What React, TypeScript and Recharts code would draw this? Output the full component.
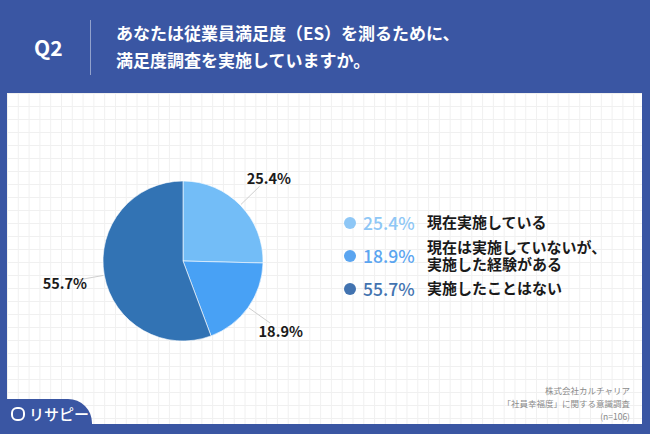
import { PieChart, Pie, Cell, Legend } from 'recharts'

const categories = ['現在実施している', '現在は実施していないが、\n実施した経験がある', '実施したことはない']
const values = [25.4, 18.9, 55.7]
const sliceColors = ['#73bdf7', '#48a1f5', '#3273b4']
const legendColors = ['#8ec7f6', '#5ba5f0', '#4273b0']
const titleLines = ['あなたは従業員満足度（ES）を測るために、', '満足度調査を実施していますか。']
const sourceLines = ['株式会社カルチャリア', '「社員幸福度」に関する意識調査', '(n=106)']

const data = categories.map((name, i) => ({ name, value: values[i] }))

const FONT = '"Noto Sans CJK JP", "Noto Sans", sans-serif'
const BLUE = '#3a56a3'
const RAD = Math.PI / 180

// percentage centred outside the slice, with a short grey leader
function renderLabel(props: any) {
  const { cx, cy, midAngle, outerRadius, value } = props
  const cos = Math.cos(-midAngle * RAD)
  const sin = Math.sin(-midAngle * RAD)
  const r0 = outerRadius + 1
  const r1 = outerRadius + 27
  const rt = outerRadius + 40
  return (
    <g>
      <line
        x1={cx + r0 * cos}
        y1={cy + r0 * sin}
        x2={cx + r1 * cos}
        y2={cy + r1 * sin}
        stroke="#cfcfcf"
        strokeWidth={1}
      />
      <text
        x={cx + rt * cos}
        y={cy + rt * sin}
        textAnchor="middle"
        dominantBaseline="central"
        fontSize={14.5}
        fontWeight={700}
        fill="#1a1a1a"
        fontFamily={FONT}
      >
        {`${value.toFixed(1)}%`}
      </text>
    </g>
  )
}

function LegendContent() {
  return (
    <div style={{ fontFamily: FONT }}>
      {data.map((d, i) => {
        const twoLines = d.name.includes('\n')
        return (
          <div
            key={d.name}
            style={{
              display: 'flex',
              alignItems: 'center',
              height: twoLines ? 35 : 31,
            }}
          >
            <span
              style={{
                width: 12,
                height: 12,
                borderRadius: 6,
                background: legendColors[i],
                marginRight: 7,
                flexShrink: 0,
              }}
            />
            <span
              style={{
                color: legendColors[i],
                fontSize: 17.5,
                fontWeight: 500,
                width: 64,
                fontFamily: FONT,
              }}
            >
              {`${d.value.toFixed(1)}%`}
            </span>
            <span
              style={{
                fontSize: 15,
                fontWeight: 700,
                color: '#1a1a1a',
                lineHeight: '16.5px',
                whiteSpace: 'pre-line',
              }}
            >
              {d.name}
            </span>
          </div>
        )
      })}
    </div>
  )
}

export default function App() {
  return (
    <div
      style={{
        position: 'absolute',
        left: 0,
        top: 0,
        width: 650,
        height: 434,
        background: BLUE,
        overflow: 'hidden',
        fontFamily: FONT,
      }}
    >
      {/* header */}
      <div style={{ position: 'absolute', left: 34, top: 33, color: '#fff', fontSize: 21, fontWeight: 700, lineHeight: '28px' }}>
        Q2
      </div>
      <div style={{ position: 'absolute', left: 90, top: 20, width: 1, height: 55, background: 'rgba(255,255,255,0.45)' }} />
      <div style={{ position: 'absolute', left: 116, top: 19, color: '#fff', fontSize: 17, fontWeight: 700, lineHeight: '27px' }}>
        {titleLines.map((l) => (
          <div key={l}>{l}</div>
        ))}
      </div>

      {/* white panel with faint grid */}
      <div
        style={{
          position: 'absolute',
          left: 7,
          top: 93,
          width: 635,
          height: 331,
          backgroundColor: '#fff',
          backgroundImage:
            'linear-gradient(to right, #f0f0f0 1px, transparent 1px), linear-gradient(to bottom, #f0f0f0 1px, transparent 1px)',
          backgroundSize: '10.8px 13px',
        }}
      />

      <div style={{ position: 'absolute', left: 0, top: 0 }}>
        <PieChart width={650} height={434} margin={{ top: 0, right: 0, bottom: 0, left: 0 }}>
          <Pie
            data={data}
            dataKey="value"
            nameKey="name"
            cx={183}
            cy={261}
            outerRadius={80}
            startAngle={90}
            endAngle={-270}
            stroke="#ffffff"
            strokeWidth={0.6}
            label={renderLabel}
            labelLine={false}
            isAnimationActive={false}
          >
            {data.map((d, i) => (
              <Cell key={d.name} fill={sliceColors[i]} />
            ))}
          </Pie>
          <Legend
            content={<LegendContent />}
            layout="vertical"
            wrapperStyle={{ position: 'absolute', left: 344, top: 207, width: 290 }}
          />
        </PieChart>
      </div>

      {/* source */}
      <div style={{ position: 'absolute', right: 20, top: 384, textAlign: 'right', color: '#8a8a8a', fontSize: 8.5, lineHeight: '13px' }}>
        {sourceLines.map((l) => (
          <div key={l}>{l}</div>
        ))}
      </div>

      {/* logo tab */}
      <div
        style={{
          position: 'absolute',
          left: 0,
          top: 399,
          width: 92,
          height: 35,
          background: BLUE,
          borderTopRightRadius: 24,
        }}
      />
      <div style={{ position: 'absolute', left: 11, top: 405, display: 'flex', alignItems: 'center', color: '#fff' }}>
        <span
          style={{
            width: 10,
            height: 10,
            borderRadius: 6,
            border: '2px solid #fff',
            marginRight: 4,
            display: 'inline-block',
          }}
        />
        <span style={{ fontSize: 15, fontWeight: 500, lineHeight: '18px' }}>リサピー</span>
      </div>
    </div>
  )
}
